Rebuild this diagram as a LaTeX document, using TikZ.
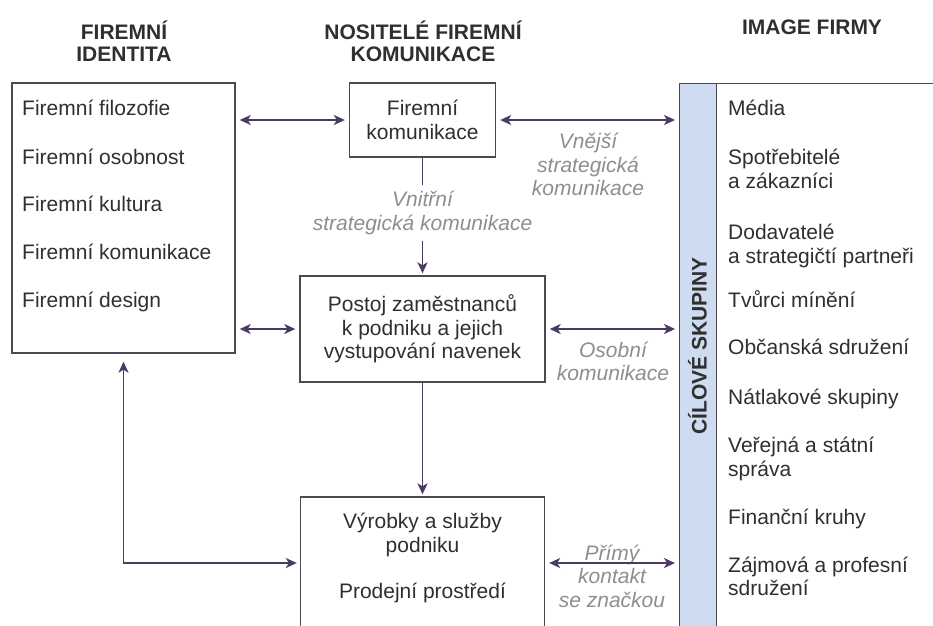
\documentclass[tikz,border=0pt]{standalone}
\usepackage{fontspec}
\setmainfont{Liberation Sans}
\usetikzlibrary{arrows.meta,calc}
\definecolor{ink}{HTML}{2F2F2F}
\definecolor{frame}{HTML}{4C4A50}
\definecolor{arrowc}{HTML}{4B3A63}
\definecolor{note}{HTML}{8E8E8E}
\definecolor{barfill}{HTML}{CFDBF0}

\begin{document}
\begin{tikzpicture}[x=1pt,y=-1pt,
  every node/.style={font=\fontsize{21}{23.5}\selectfont, text=ink, inner sep=0pt},
  box/.style={draw=frame, line width=1.4pt},
  head/.style={font=\fontsize{21}{22}\selectfont\bfseries, align=center},
  item/.style={anchor=base west, align=left},
  note/.style={font=\fontsize{21}{23.5}\selectfont\itshape, text=note, align=center},
  wire/.style={draw=arrowc, line width=1.8pt},
  link/.style={wire, {Stealth[length=11pt,width=10pt,inset=3pt]}-{Stealth[length=11pt,width=10pt,inset=3pt]}, shorten <=4pt, shorten >=4pt},
  flow/.style={wire, -{Stealth[length=11pt,width=10pt,inset=3pt]}}
]
\useasboundingbox (0,0) rectangle (933,625);
\clip (0,0) rectangle (933,625);

% column headings
\node[head] (hident) at (124,41) {FIREMNÍ\\IDENTITA};
\node[head] (hcarrier) at (423,41) {NOSITELÉ FIREMNÍ\\KOMUNIKACE};
\node[head] (himage) at (812,27) {IMAGE FIRMY};

% corporate identity box
\node[box, minimum width=223pt, minimum height=270pt] (ident) at (123.5,218) {};
\node[item] (i1) at (22,115.5) {Firemní filozofie};
\node[item] (i2) at (22,164) {Firemní osobnost};
\node[item] (i3) at (22,211.5) {Firemní kultura};
\node[item] (i4) at (22,259.5) {Firemní komunikace};
\node[item] (i5) at (22,307.5) {Firemní design};

% carriers of corporate communication
\node[box, minimum width=146pt, minimum height=74pt, align=center] (fk) at (422.5,120) {Firemní\\komunikace};
\node[box, minimum width=245pt, minimum height=106pt, align=center] (postoj) at (422.5,329)
  {Postoj zaměstnanců\\k podniku a jejich\\vystupování navenek};
\node[box, minimum width=244pt, minimum height=132pt] (vyrobky) at (422.5,563) {};
\node[align=center] (vyrobkytext) at (422.5,558) {Výrobky a služby\\podniku\\[22.5pt]Prodejní prostředí};

% corporate image: target groups
\node[box, minimum width=320pt, minimum height=620pt, anchor=north west] (image) at (679,83) {};
\node[box, fill=barfill, minimum width=37pt, minimum height=620pt, anchor=north west] (bar) at (679,83) {};
\node[font=\fontsize{21}{22}\selectfont\bfseries, rotate=90] (cil) at (697.5,346) {CÍLOVÉ SKUPINY};

% base anchor of a multi-line item sits on its last line
\node[item] (g1) at (728,115.5) {Média};
\node[item] (g2) at (728,188) {Spotřebitelé\\a zákazníci};
\node[item] (g3) at (728,263) {Dodavatelé\\a strategičtí partneři};
\node[item] (g4) at (728,307.5) {Tvůrci mínění};
\node[item] (g5) at (728,354.5) {Občanská sdružení};
\node[item] (g6) at (728,404.5) {Nátlakové skupiny};
\node[item] (g7) at (728,476) {Veřejná a státní\\správa};
\node[item] (g8) at (728,524.5) {Finanční kruhy};
\node[item] (g9) at (728,595.5) {Zájmová a profesní\\sdružení};

% connector labels
\node[note] (vnitr) at (422.5,213) {Vnitřní\\strategická komunikace};
\node[note] (vnejsi) at (588,164.5) {Vnější\\strategická\\komunikace};
\node[note] (osobni) at (613,361.5) {Osobní\\komunikace};
\node[note] (primy) at (612,576) {Přímý\\kontakt\\se značkou};

% connectors
\draw[link] (fk.west -| ident.east) -- (fk.west);
\draw[link] (fk.east) -- (fk.east -| bar.west);
\draw[link] (postoj.west -| ident.east) -- (postoj.west);
\draw[link] (postoj.east) -- (postoj.east -| bar.west);
\draw[link] (vyrobky.east) -- (vyrobky.east -| bar.west);
\draw[link, shorten <=8pt, shorten >=3pt] (ident.south) |- (vyrobky.west);
\draw[wire, shorten >=6pt] (fk.south) -- (vnitr.north);
\draw[flow, shorten <=6pt, shorten >=2pt] (vnitr.south) -- (postoj.north);
\draw[flow, shorten >=2pt] (postoj.south) -- (vyrobky.north);
\end{tikzpicture}
\end{document}
